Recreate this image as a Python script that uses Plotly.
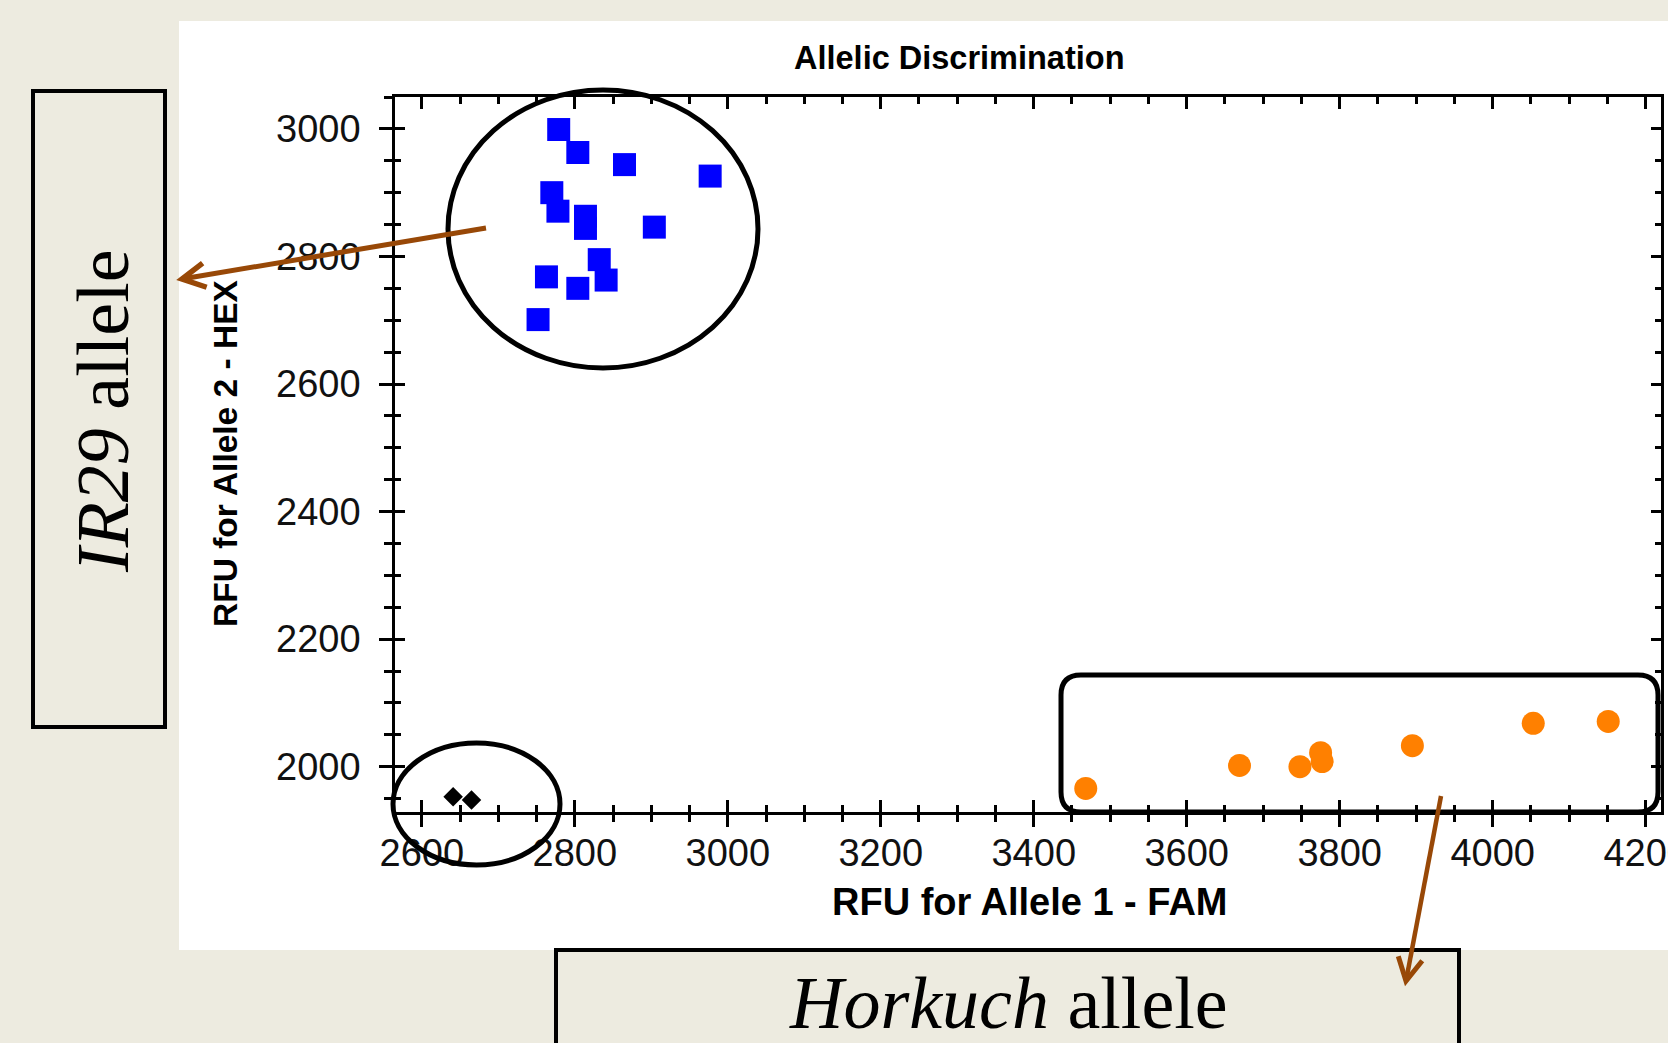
import math
import plotly.graph_objects as go

# ---- data: allelic discrimination clusters (RFU values) ----
ir29_fam = [2779, 2804, 2865, 2977, 2770, 2778, 2814, 2814, 2904, 2832, 2763, 2841, 2804, 2752]
ir29_hex = [2999, 2963, 2944, 2926, 2900, 2871, 2863, 2844, 2846, 2795, 2768, 2763, 2750, 2701]

horkuch_fam = [3468, 3669, 3748, 3775, 3777, 3895, 4053, 4151]
horkuch_hex = [1966, 2002, 2000, 2022, 2008, 2033, 2068, 2071]

ntc_fam = [2641, 2665]
ntc_hex = [1953, 1948]

x_range = [2565, 4220]
y_range = [1929, 3050]

# ---- page geometry (pixels) ----
W, H = 1668, 1043
L, R, T, B = 395, 7, 97, 231
PW, PH = W - L - R, H - T - B

BEIGE = "#EDEBE0"
BROWN = "#984807"
SANS = "Liberation Sans, Arial, sans-serif"
SERIF = "Liberation Serif, Times New Roman, serif"


def px(x):
    return (x - L) / PW


def py(y):
    return 1 - (y - T) / PH


fig = go.Figure()

fig.add_trace(go.Scatter(
    x=ir29_fam, y=ir29_hex, mode="markers",
    marker=dict(symbol="square", size=23, color="#0000FF", line=dict(width=0)),
    showlegend=False, cliponaxis=False))
fig.add_trace(go.Scatter(
    x=horkuch_fam, y=horkuch_hex, mode="markers",
    marker=dict(symbol="circle", size=23, color="#FF8000", line=dict(width=0)),
    showlegend=False, cliponaxis=False))
fig.add_trace(go.Scatter(
    x=ntc_fam, y=ntc_hex, mode="markers",
    marker=dict(symbol="diamond", size=15, color="#000000", line=dict(width=0)),
    showlegend=False, cliponaxis=False))
# empty trace that carries the overlay axes (outer ticks)
fig.add_trace(go.Scatter(x=[], y=[], xaxis="x2", yaxis="y2", showlegend=False))

tickfont = dict(family=SANS, size=38, color="#111111")

common = dict(showgrid=False, zeroline=False, showline=True, automargin=False,
              linecolor="black", linewidth=2.5, tickcolor="black", tickwidth=2.5)

fig.update_layout(
    width=W, height=H,
    margin=dict(l=L, r=R, t=T, b=B, pad=0, autoexpand=False),
    paper_bgcolor=BEIGE, plot_bgcolor="white",
    # main axes: inner ticks on all four sides, tick labels
    xaxis=dict(range=x_range, tick0=2600, dtick=200, ticks="inside", ticklen=12,
               minor=dict(dtick=50, ticks="inside", ticklen=7, tickcolor="black", tickwidth=2.5),
               tickfont=tickfont, ticklabelstandoff=6, ticklabeloverflow="allow",
               mirror="allticks", **common),
    yaxis=dict(range=y_range, tick0=2000, dtick=200, ticks="inside", ticklen=10,
               minor=dict(dtick=50, ticks="inside", ticklen=6, tickcolor="black", tickwidth=2.5),
               tickfont=tickfont, ticklabelstandoff=24, ticklabeloverflow="allow",
               mirror="allticks", **common),
    # overlay axes: outer halves of the crossing ticks on bottom and left
    xaxis2=dict(range=x_range, tick0=2600, dtick=200, ticks="outside", ticklen=12,
                minor=dict(dtick=50, ticks="outside", ticklen=7, tickcolor="black", tickwidth=2.5),
                showticklabels=False, overlaying="x", anchor="y2", side="bottom",
                mirror=False, **common),
    yaxis2=dict(range=y_range, tick0=2000, dtick=200, ticks="outside", ticklen=13,
                minor=dict(dtick=50, ticks="outside", ticklen=8, tickcolor="black", tickwidth=2.5),
                showticklabels=False, overlaying="y", anchor="x2", side="left",
                mirror=False, **common),
)

shapes = []
# white chart panel
shapes.append(dict(type="rect", xref="paper", yref="paper", layer="below",
                   x0=px(179), x1=px(W), y0=py(21), y1=py(950),
                   fillcolor="white", line=dict(width=0)))

# cluster outlines
shapes.append(dict(type="circle", xref="paper", yref="paper",
                   x0=px(448), x1=px(758), y0=py(90), y1=py(368),
                   line=dict(color="black", width=5)))
shapes.append(dict(type="circle", xref="paper", yref="paper",
                   x0=px(393), x1=px(560), y0=py(743), y1=py(865),
                   line=dict(color="black", width=5)))


def rounded_rect(x0, y0, x1, y1, r):
    pts = [("M", x0 + r, y0), ("L", x1 - r, y0), ("Q", x1, y0, x1, y0 + r),
           ("L", x1, y1 - r), ("Q", x1, y1, x1 - r, y1), ("L", x0 + r, y1),
           ("Q", x0, y1, x0, y1 - r), ("L", x0, y0 + r), ("Q", x0, y0, x0 + r, y0)]
    out = []
    for p in pts:
        cmd, coords = p[0], p[1:]
        conv = []
        for i in range(0, len(coords), 2):
            conv.append(f"{px(coords[i]):.5f},{py(coords[i + 1]):.5f}")
        out.append(cmd + " " + " ".join(conv))
    return " ".join(out) + " Z"


shapes.append(dict(type="path", xref="paper", yref="paper",
                   path=rounded_rect(1061, 675, 1658, 812, 20),
                   line=dict(color="black", width=5), fillcolor="rgba(0,0,0,0)"))

# label boxes
shapes.append(dict(type="rect", xref="paper", yref="paper",
                   x0=px(33), x1=px(165), y0=py(91), y1=py(727),
                   fillcolor=BEIGE, line=dict(color="black", width=4)))
shapes.append(dict(type="rect", xref="paper", yref="paper",
                   x0=px(556), x1=px(1459), y0=py(950), y1=py(1060),
                   fillcolor=BEIGE, line=dict(color="black", width=4)))


def arrow(tail, tip, width, head_len=26, head_ang=28):
    tx, ty = tail
    hx, hy = tip
    shapes.append(dict(type="line", xref="paper", yref="paper",
                       x0=px(tx), y0=py(ty), x1=px(hx), y1=py(hy),
                       line=dict(color=BROWN, width=width)))
    ang = math.atan2(ty - hy, tx - hx)
    w1 = (hx + head_len * math.cos(ang + math.radians(head_ang)),
          hy + head_len * math.sin(ang + math.radians(head_ang)))
    w2 = (hx + head_len * math.cos(ang - math.radians(head_ang)),
          hy + head_len * math.sin(ang - math.radians(head_ang)))
    path = (f"M {px(w1[0]):.5f},{py(w1[1]):.5f} L {px(hx):.5f},{py(hy):.5f} "
            f"L {px(w2[0]):.5f},{py(w2[1]):.5f}")
    shapes.append(dict(type="path", xref="paper", yref="paper", path=path,
                       line=dict(color=BROWN, width=width + 0.5),
                       fillcolor="rgba(0,0,0,0)"))


arrow((486, 228), (182, 279), 5)
arrow((1441, 796), (1406, 981), 4.5)

fig.update_layout(shapes=shapes)

annotations = [
    dict(text="<b>Allelic Discrimination</b>", x=px(959), y=py(58),
         font=dict(family=SANS, size=32.5, color="black")),
    dict(text="<b>RFU for Allele 1 - FAM</b>", x=px(1030), y=py(902),
         font=dict(family=SANS, size=38, color="black")),
    dict(text="<b>RFU for Allele 2 - HEX</b>", x=px(225), y=py(454), textangle=-90,
         font=dict(family=SANS, size=33.5, color="black")),
    dict(text="<i>IR29</i> allele", x=px(103), y=py(411), textangle=-90,
         font=dict(family=SERIF, size=74, color="black")),
    dict(text="<i>Horkuch</i> allele", x=px(1008), y=py(1003),
         font=dict(family=SERIF, size=74, color="black")),
]
for a in annotations:
    a.update(xref="paper", yref="paper", showarrow=False,
             xanchor="center", yanchor="middle")
fig.update_layout(annotations=annotations)

# the last tick label runs past the page edge; clip it there instead of widening the page
clip_js = (
    "var d = document.getElementById('{plot_id}');"
    "d.style.overflow = 'hidden';"
    "document.body.style.margin = '0';"
    "document.body.style.overflow = 'hidden';"
    "document.querySelectorAll('.svg-container').forEach(function(e){e.style.overflow='hidden';});"
)
fig.write_html("out.html", post_script=clip_js)
